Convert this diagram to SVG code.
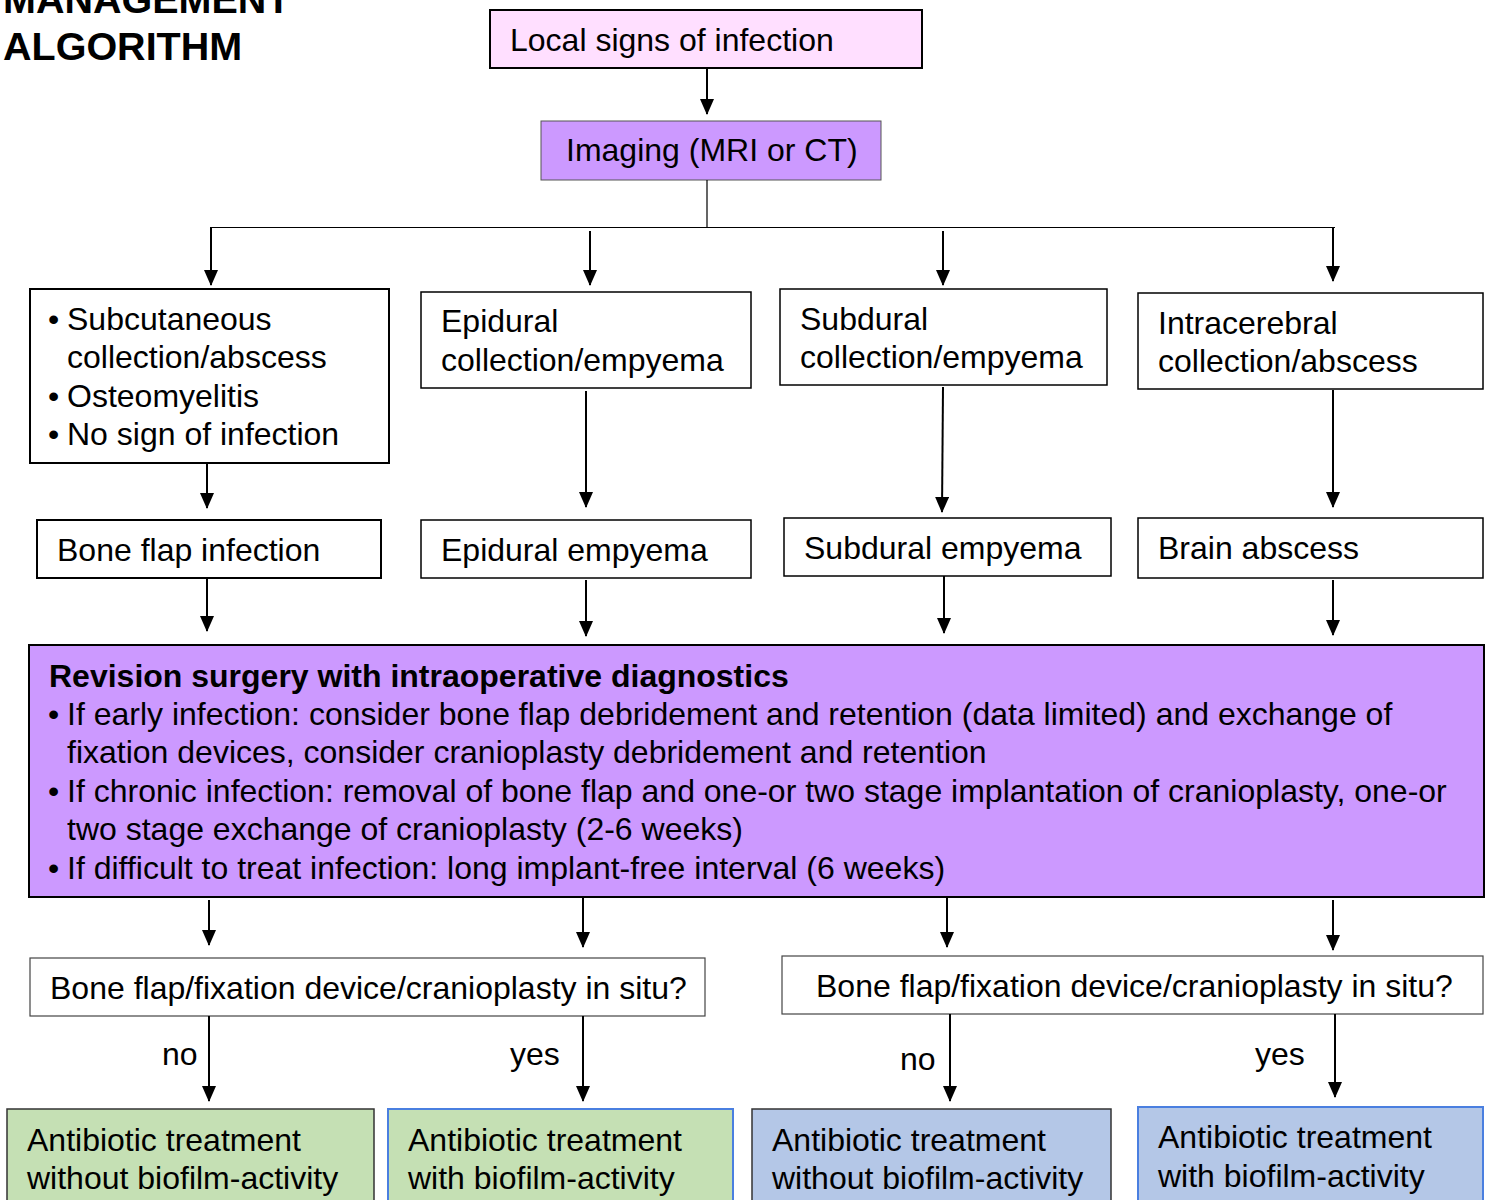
<svg xmlns="http://www.w3.org/2000/svg" width="1495" height="1200" viewBox="0 0 1495 1200">
<defs>
<marker id="ah" markerUnits="userSpaceOnUse" markerWidth="16" markerHeight="14" refX="15" refY="7" orient="auto" viewBox="0 0 16 14">
<path d="M0,0 L16,7 L0,14 Z" fill="#000"/>
</marker>
<style>
text{font-family:"Liberation Sans",Arial,sans-serif;font-size:32px;fill:#000}
.b{font-weight:bold}
.t{font-weight:bold;font-size:39.5px}
.box{stroke:#000;stroke-width:2;fill:#fff}
.pink{fill:#ffdfff}
.purple{fill:#cc99ff}
.green{fill:#c5e0b4}
.blue{fill:#b4c7e7}
.bb{stroke:#4a7fe0;stroke-width:2}
.dk{stroke:#333;stroke-width:1.5}
.c line,.c path{stroke:#000;stroke-width:2;fill:none}
.a{marker-end:url(#ah)}
</style>
</defs>
<rect width="1495" height="1200" fill="#fff"/>
<g id="title">
<text class="t" x="3" y="13">MANAGEMENT</text>
<text class="t" x="3" y="60">ALGORITHM</text>
</g>
<g id="local">
<rect class="box pink" x="490" y="10" width="432" height="58"/>
<text x="510" y="51">Local signs of infection</text>
</g>
<g id="imaging">
<rect class="box purple" x="541" y="121" width="340" height="59" style="stroke-width:1;stroke:#555"/>
<text x="566" y="161">Imaging (MRI or CT)</text>
</g>
<g id="subcutaneous">
<rect class="box" x="30" y="289" width="359" height="174"/>
<text x="48" y="330">•</text><text x="67" y="330">Subcutaneous</text>
<text x="67" y="368">collection/abscess</text>
<text x="48" y="407">•</text><text x="67" y="407">Osteomyelitis</text>
<text x="48" y="445">•</text><text x="67" y="445">No sign of infection</text>
</g>
<g id="epidural-collection">
<rect class="box" x="421" y="292" width="330" height="96" style="stroke-width:1.5"/>
<text x="441" y="332">Epidural</text>
<text x="441" y="371">collection/empyema</text>
</g>
<g id="subdural-collection">
<rect class="box" x="780" y="289" width="327" height="96" style="stroke-width:1.5"/>
<text x="800" y="330">Subdural</text>
<text x="800" y="368">collection/empyema</text>
</g>
<g id="intracerebral">
<rect class="box" x="1138" y="293" width="345" height="96" style="stroke-width:1.5"/>
<text x="1158" y="334">Intracerebral</text>
<text x="1158" y="372">collection/abscess</text>
</g>
<g id="bone-flap-infection">
<rect class="box" x="37" y="520" width="344" height="58"/>
<text x="57" y="561">Bone flap infection</text>
</g>
<g id="epidural-empyema">
<rect class="box" x="421" y="520" width="330" height="58" style="stroke-width:1.5"/>
<text x="441" y="561">Epidural empyema</text>
</g>
<g id="subdural-empyema">
<rect class="box" x="784" y="518" width="327" height="58" style="stroke-width:1.5"/>
<text x="804" y="559">Subdural empyema</text>
</g>
<g id="brain-abscess">
<rect class="box" x="1138" y="518" width="345" height="60" style="stroke-width:1.5"/>
<text x="1158" y="559">Brain abscess</text>
</g>
<g id="revision">
<rect class="box purple" x="29" y="645" width="1455" height="252"/>
<text class="b" x="49" y="687">Revision surgery with intraoperative diagnostics</text>
<text x="48" y="725">•</text><text x="67" y="725">If early infection: consider bone flap debridement and retention (data limited) and exchange of</text>
<text x="67" y="763">fixation devices, consider cranioplasty debridement and retention</text>
<text x="48" y="802">•</text><text x="67" y="802">If chronic infection: removal of bone flap and one-or two stage implantation of cranioplasty, one-or</text>
<text x="67" y="840">two stage exchange of cranioplasty (2-6 weeks)</text>
<text x="48" y="879">•</text><text x="67" y="879">If difficult to treat infection: long implant-free interval (6 weeks)</text>
</g>
<g id="insitu-left">
<rect class="box" x="30" y="958" width="675" height="58" style="stroke-width:1.2;stroke:#444"/>
<text x="50" y="999">Bone flap/fixation device/cranioplasty in situ?</text>
</g>
<g id="insitu-right">
<rect class="box" x="782" y="956" width="701" height="58" style="stroke-width:1.2;stroke:#444"/>
<text x="816" y="997">Bone flap/fixation device/cranioplasty in situ?</text>
</g>
<g id="ab1">
<rect class="green dk" x="7" y="1109" width="367" height="110"/>
<text x="27" y="1151">Antibiotic treatment</text>
<text x="27" y="1189">without biofilm-activity</text>
</g>
<g id="ab2">
<rect class="green bb" x="388" y="1109" width="345" height="110"/>
<text x="408" y="1151">Antibiotic treatment</text>
<text x="408" y="1189">with biofilm-activity</text>
</g>
<g id="ab3">
<rect class="blue dk" x="752" y="1109" width="359" height="110"/>
<text x="772" y="1151">Antibiotic treatment</text>
<text x="772" y="1189">without biofilm-activity</text>
</g>
<g id="ab4">
<rect class="blue bb" x="1138" y="1107" width="345" height="110"/>
<text x="1158" y="1148">Antibiotic treatment</text>
<text x="1158" y="1187">with biofilm-activity</text>
</g>
<g id="labels">
<text x="162" y="1065">no</text>
<text x="510" y="1065">yes</text>
<text x="900" y="1070">no</text>
<text x="1255" y="1065">yes</text>
</g>
<g id="connectors" class="c">
<line class="a" x1="707" y1="68" x2="707" y2="114"/>
<path d="M707,180 V227.5 M210,227.5 H1335" style="stroke-width:1.2"/>
<line class="a" x1="211" y1="228" x2="211" y2="285"/>
<line class="a" x1="590" y1="231" x2="590" y2="285"/>
<line class="a" x1="943" y1="231" x2="943" y2="285"/>
<line class="a" x1="1333" y1="228" x2="1333" y2="281"/>
<line class="a" x1="207" y1="463" x2="207" y2="508"/>
<line class="a" x1="586" y1="391" x2="586" y2="507"/>
<line class="a" x1="943" y1="387" x2="942" y2="512"/>
<line class="a" x1="1333" y1="390" x2="1333" y2="507"/>
<line class="a" x1="207" y1="578" x2="207" y2="631"/>
<line class="a" x1="586" y1="580" x2="586" y2="636"/>
<line class="a" x1="944" y1="576" x2="944" y2="633"/>
<line class="a" x1="1333" y1="580" x2="1333" y2="635"/>
<line class="a" x1="209" y1="900" x2="209" y2="945"/>
<line class="a" x1="583" y1="897" x2="583" y2="947"/>
<line class="a" x1="947" y1="897" x2="947" y2="947"/>
<line class="a" x1="1333" y1="900" x2="1333" y2="950"/>
<line class="a" x1="209" y1="1016" x2="209" y2="1101"/>
<line class="a" x1="583" y1="1016" x2="583" y2="1101"/>
<line class="a" x1="950" y1="1014" x2="950" y2="1101"/>
<line class="a" x1="1335" y1="1014" x2="1335" y2="1097"/>
</g>
</svg>
